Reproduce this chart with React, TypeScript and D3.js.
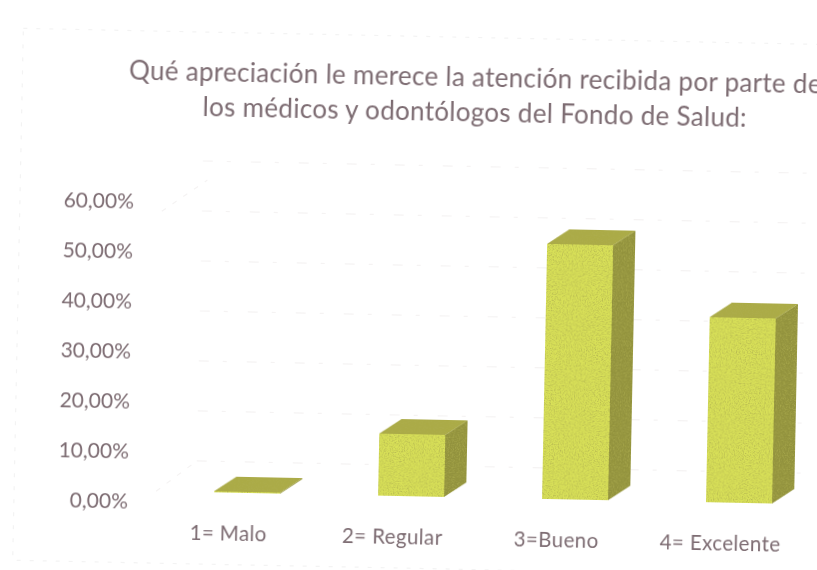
import React from "react";
import * as d3 from "d3";

const categories = ["1= Malo", "2= Regular", "3=Bueno", "4= Excelente"];
const values = [0.2, 12.4, 51, 37];
const ticks = [0, 10, 20, 30, 40, 50, 60];
const tickLabels = ["0,00%", "10,00%", "20,00%", "30,00%", "40,00%", "50,00%", "60,00%"];
const titleLines = [
  "Qué apreciación le merece la atención recibida por parte de",
  "los médicos y odontólogos del Fondo de Salud:",
];

const W = 817;
const H = 570;
const DX = 22;
const DY = -15;
const TEXT = "#7d6c72";
const FONT = "Lato, 'Open Sans', sans-serif";

export default function App() {
  const y = d3.scaleLinear().domain([0, 60]).range([496, 196]);
  const x = d3.scaleBand<string>().domain(categories).range([218, 776]).paddingInner(98 / 164);
  const bw = x.bandwidth();

  const poly = (pts: [number, number][]) => pts.map((p) => p.join(",")).join(" ");

  return (
    <svg
      width={W}
      height={H}
      viewBox={`0 0 ${W} ${H}`}
      style={{ position: "absolute", left: 0, top: 0, background: "#fff" }}
    >
      <defs>
        <filter id="grain" x="-5%" y="-5%" width="110%" height="110%">
          <feTurbulence type="fractalNoise" baseFrequency="0.8" numOctaves="2" seed="4" result="n" />
          <feColorMatrix
            in="n"
            type="matrix"
            values="0 0 0 0 0.42  0 0 0 0 0.42  0 0 0 0 0.08  2.0 0 0 0 -0.85"
            result="g"
          />
          <feComposite in="g" in2="SourceGraphic" operator="in" result="gc" />
          <feMerge>
            <feMergeNode in="SourceGraphic" />
            <feMergeNode in="gc" />
          </feMerge>
          <feGaussianBlur stdDeviation="0.4" />
        </filter>
        <filter id="soft">
          <feGaussianBlur stdDeviation="0.35" />
        </filter>
      </defs>
      <g transform="rotate(1.15 400 300)">
        <rect
          x={18}
          y={36}
          width={830}
          height={532}
          fill="none"
          stroke="#f3f3f3"
          strokeWidth={1.2}
          strokeDasharray="4 9"
        />
        {ticks.map((t) => (
          <line
            key={t}
            x1={200}
            x2={840}
            y1={y(t) - 31}
            y2={y(t) - 31}
            stroke="#f5f3f3"
            strokeWidth={1.2}
            strokeDasharray="10 14 4 20"
          />
        ))}
        <line x1={160} y1={y(0)} x2={200} y2={y(0) - 31} stroke="#f5f3f3" strokeWidth={1.2} strokeDasharray="5 8" />
        <line x1={160} y1={y(60) + 20} x2={205} y2={y(60) - 12} stroke="#f5f3f3" strokeWidth={1.2} strokeDasharray="5 8" />

        <g filter="url(#soft)" fontFamily={FONT} fill={TEXT}>
          {titleLines.map((line, i) => (
            <text key={line} x={471} y={i === 0 ? 85 : 120} textAnchor="middle" fontSize={26} letterSpacing={0.3}>
              {line}
            </text>
          ))}
          {ticks.map((t, i) => (
            <text key={t} x={132} y={y(t) + 18} textAnchor="end" fontSize={21}>
              {tickLabels[i]}
            </text>
          ))}
          {categories.map((c) => (
            <text
              key={c}
              x={(x(c) as number) + bw / 2 - 18}
              y={544}
              textAnchor="middle"
              fontSize={20.5}
              letterSpacing={0.4}
            >
              {c}
            </text>
          ))}
        </g>

        <g filter="url(#grain)">
          {categories.map((c, i) => {
            const l = x(c) as number;
            const r = l + bw;
            const b = y(0);
            const t = y(values[i]);
            return (
              <g key={c}>
                <polygon
                  points={poly([[r, t], [r + DX, t + DY], [r + DX, b + DY], [r, b]])}
                  fill="#92923c"
                />
                <polygon points={poly([[l, b], [r, b], [r, t], [l, t]])} fill="#d8e058" />
                <polygon
                  points={poly([[l, t], [r, t], [r + DX, t + DY], [l + DX, t + DY]])}
                  fill="#abab46"
                />
              </g>
            );
          })}
        </g>
      </g>
    </svg>
  );
}
